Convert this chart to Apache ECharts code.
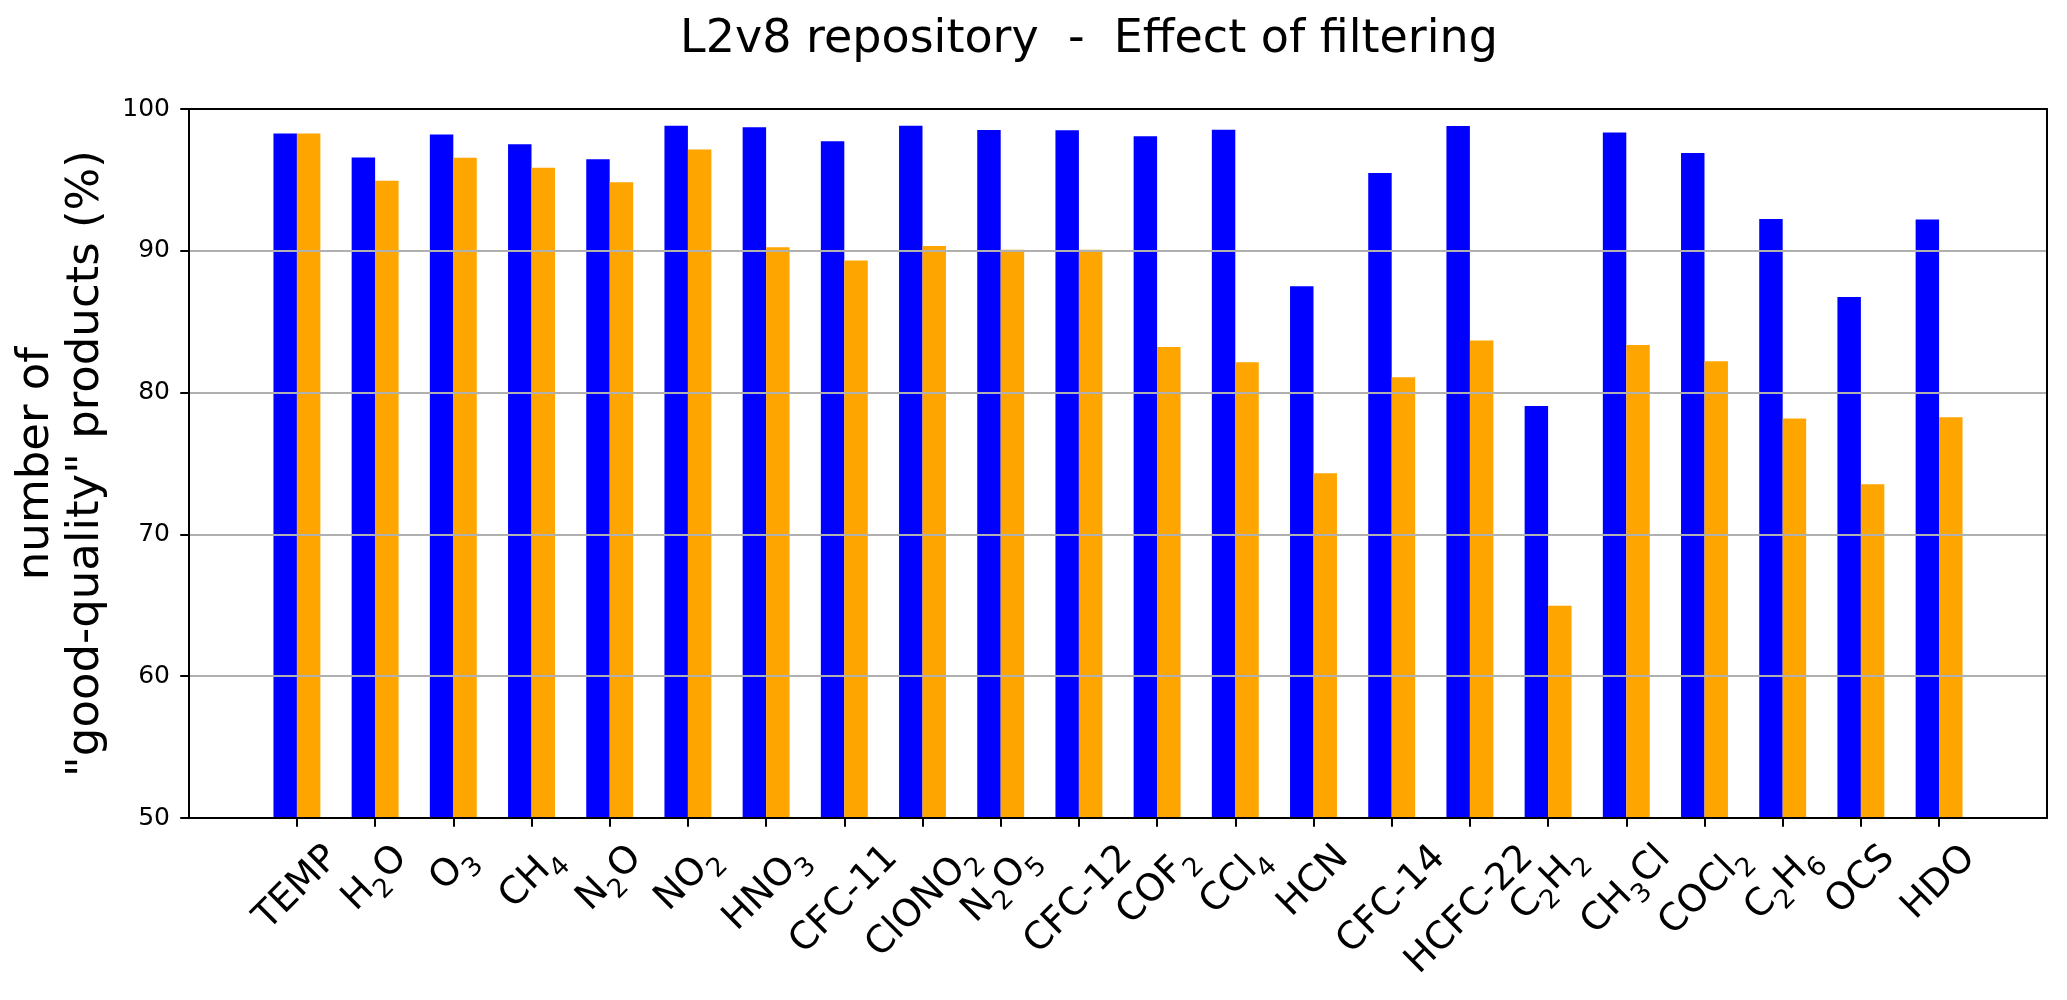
<!DOCTYPE html>
<html>
<head>
<meta charset="utf-8">
<script src="https://cdn.jsdelivr.net/npm/echarts@6/dist/echarts.min.js"></script>
<style>
html,body{margin:0;padding:0;background:#fff;}
#chart{width:2067px;height:1000px;}
</style>
</head>
<body>
<div id="chart"></div>
<script>
// ---- data ----
const categories = ['TEMP','H_2O','O_3','CH_4','N_2O','NO_2','HNO_3','CFC-11','ClONO_2','N_2O_5','CFC-12',
  'COF_2','CCl_4','HCN','CFC-14','HCFC-22','C_2H_2','CH_3Cl','COCl_2','C_2H_6','OCS','HDO'];
const allProducts = [98.28, 96.58, 98.21, 97.51, 96.45, 98.81, 98.71, 97.72, 98.82, 98.52, 98.50,
  98.07, 98.54, 87.50, 95.49, 98.80, 79.06, 98.35, 96.90, 92.24, 86.75, 92.20];
const filteredProducts = [98.28, 94.94, 96.56, 95.86, 94.83, 97.15, 90.25, 89.31, 90.34, 90.08, 90.08,
  83.22, 82.14, 74.31, 81.08, 83.67, 64.96, 83.36, 82.21, 78.17, 73.54, 78.26];
const yTickValues = [50, 60, 70, 80, 90, 100];
const titleText = 'L2v8 repository  -  Effect of filtering';
const yAxisTitle = 'number of\n"good-quality" products (%)';

// ---- layout / styling ----
const W = 2067;
const PLOT = { left: 189, right: 20, top: 109, bottom: 182 };
const XMARGIN = 1.38;               // empty space beside first/last group, in category units
const unit = (W - PLOT.left - PLOT.right) / (categories.length - 1 + 2 * XMARGIN);
const inner = { left: PLOT.left + (XMARGIN - 0.5) * unit, right: PLOT.right + (XMARGIN - 0.5) * unit,
  top: PLOT.top, bottom: PLOT.bottom };

const FONT = 'DejaVu Sans';
const MAIN = 37.5, SUB = 26.25, LINE = 44;
const ctx = document.createElement('canvas').getContext('2d');
function parts(name) {
  const out = []; const re = /_(\d)/g; let last = 0, m;
  while ((m = re.exec(name))) {
    if (m.index > last) out.push({ t: name.slice(last, m.index), s: false });
    out.push({ t: m[1], s: true });
    last = re.lastIndex;
  }
  if (last < name.length) out.push({ t: name.slice(last), s: false });
  return out;
}
function measure(ps) {
  let w = 0;
  for (const p of ps) { ctx.font = (p.s ? SUB : MAIN) + 'px "' + FONT + '"'; w += ctx.measureText(p.t).width; }
  return w;
}
const rich = {
  m: { fontFamily: FONT, fontSize: MAIN, lineHeight: LINE, color: '#000' },
  b: { fontFamily: FONT, fontSize: SUB, lineHeight: LINE, color: '#000', padding: [28, 0, 0, 0] }
};
const labelTexts = categories.map((name, i) => {
  const ps = parts(name);
  const w = measure(ps);
  const s = 0.5 * (w + MAIN);
  rich['v' + i] = { fontSize: 1, lineHeight: s };
  rich['h' + i] = { fontSize: 1, width: s, lineHeight: LINE };
  return '{v' + i + '| }\n' + ps.map(p => '{' + (p.s ? 'b' : 'm') + '|' + p.t + '}').join('') + '{h' + i + '| }';
});
const plainNames = categories.map(c => c.replace(/_/g, ''));

const frameLine = { show: true, onZero: false, lineStyle: { color: '#000', width: 2 } };
const off = { show: false };

const chart = echarts.init(document.getElementById('chart'));
chart.setOption({
  animation: false,
  backgroundColor: '#fff',
  title: {
    text: titleText, left: 1089, top: 17, textAlign: 'center', padding: 0,
    textStyle: { fontFamily: FONT, fontSize: 46, fontWeight: 'normal', color: '#000', lineHeight: 46 }
  },
  grid: [
    Object.assign({ containLabel: false }, PLOT),
    Object.assign({ containLabel: false }, inner)
  ],
  xAxis: [
    { gridIndex: 0, type: 'value', min: 0, max: 1, position: 'bottom', z: 6,
      axisLine: frameLine, axisTick: off, axisLabel: off, splitLine: off },
    { gridIndex: 0, type: 'value', min: 0, max: 1, position: 'top', z: 6,
      axisLine: frameLine, axisTick: off, axisLabel: off, splitLine: off },
    { gridIndex: 1, type: 'category', data: plainNames, position: 'bottom', boundaryGap: true, z: 6,
      axisLine: frameLine,
      axisTick: { show: true, alignWithLabel: true, interval: 0, length: 8.75, lineStyle: { color: '#000', width: 2 } },
      axisLabel: {
        interval: 0, rotate: 45, align: 'center', verticalAlign: 'middle', margin: 21, hideOverlap: false,
        fontFamily: FONT, color: '#000', rich: rich,
        formatter: (v, i) => labelTexts[i]
      },
      splitLine: off }
  ],
  yAxis: [
    { gridIndex: 0, type: 'value', position: 'left',
      min: yTickValues[0], max: yTickValues[yTickValues.length - 1],
      interval: yTickValues[1] - yTickValues[0], z: 5,
      name: yAxisTitle, nameLocation: 'middle', nameRotate: 90, nameGap: 76,
      nameTextStyle: { fontFamily: FONT, fontSize: 45, lineHeight: 50, color: '#000' },
      axisLine: frameLine,
      axisTick: { show: true, length: 8.75, lineStyle: { color: '#000', width: 2 } },
      axisLabel: { fontFamily: FONT, fontSize: 25, color: '#000', margin: 19 },
      splitLine: { show: true, lineStyle: { color: '#b0b0b0', width: 2 } } },
    { gridIndex: 0, type: 'value', position: 'right',
      min: yTickValues[0], max: yTickValues[yTickValues.length - 1], z: 6,
      axisLine: frameLine, axisTick: off, axisLabel: off, splitLine: off },
    { gridIndex: 1, type: 'value', show: false,
      min: yTickValues[0], max: yTickValues[yTickValues.length - 1], splitLine: off }
  ],
  series: [
    { name: 'all products', type: 'bar', xAxisIndex: 2, yAxisIndex: 2, barWidth: '30%', barGap: '0%',
      itemStyle: { color: '#0000ff' }, data: allProducts },
    { name: 'filtered products', type: 'bar', xAxisIndex: 2, yAxisIndex: 2, barWidth: '30%', barGap: '0%',
      itemStyle: { color: '#ffa500' }, data: filteredProducts }
  ]
});
</script>
</body>
</html>
